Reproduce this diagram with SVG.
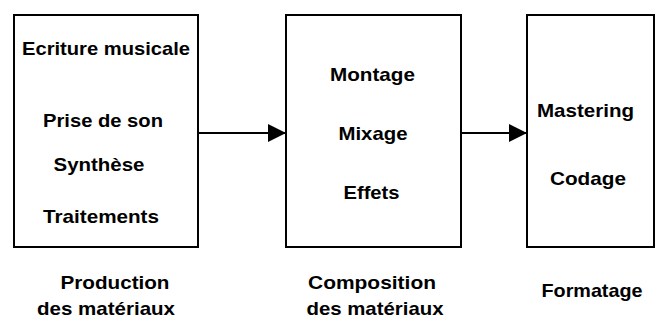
<svg xmlns="http://www.w3.org/2000/svg" width="661" height="320" viewBox="0 0 661 320">
<style>
.box{fill:#fff;stroke:#000;stroke-width:2}
.t{font-family:"Liberation Sans",Arial,sans-serif;font-weight:bold;font-size:19px;fill:#000;text-anchor:middle}
.c{stroke:#000;stroke-width:2;fill:none}
</style>
<defs>
<marker id="ah" markerUnits="userSpaceOnUse" markerWidth="18" markerHeight="18" refX="18" refY="9" orient="auto">
<path d="M0,0 L18,9 L0,18 Z" fill="#000"/>
</marker>
</defs>
<rect width="661" height="320" fill="#fff"/>
<g id="production">
<rect class="box" x="14" y="15" width="184" height="232"/>
<text class="t" x="106" y="55" textLength="168" lengthAdjust="spacingAndGlyphs">Ecriture musicale</text>
<text class="t" x="103" y="127" textLength="120" lengthAdjust="spacingAndGlyphs">Prise de son</text>
<text class="t" x="99" y="171" textLength="91" lengthAdjust="spacingAndGlyphs">Synthèse</text>
<text class="t" x="101" y="223" textLength="116" lengthAdjust="spacingAndGlyphs">Traitements</text>
</g>
<g id="composition">
<rect class="box" x="286" y="15" width="175" height="232"/>
<text class="t" x="372.5" y="81" textLength="85" lengthAdjust="spacingAndGlyphs">Montage</text>
<text class="t" x="373" y="140" textLength="69" lengthAdjust="spacingAndGlyphs">Mixage</text>
<text class="t" x="371.5" y="199" textLength="56" lengthAdjust="spacingAndGlyphs">Effets</text>
</g>
<g id="formatage">
<rect class="box" x="527" y="15" width="127" height="232"/>
<text class="t" x="585.5" y="117" textLength="97" lengthAdjust="spacingAndGlyphs">Mastering</text>
<text class="t" x="588" y="185" textLength="76" lengthAdjust="spacingAndGlyphs">Codage</text>
</g>
<g id="labels">
<text class="t" x="115" y="289" textLength="109" lengthAdjust="spacingAndGlyphs">Production</text>
<text class="t" x="106" y="315" textLength="138" lengthAdjust="spacingAndGlyphs">des matériaux</text>
<text class="t" x="372" y="289" textLength="128" lengthAdjust="spacingAndGlyphs">Composition</text>
<text class="t" x="375" y="315" textLength="137" lengthAdjust="spacingAndGlyphs">des matériaux</text>
<text class="t" x="592" y="297" textLength="101" lengthAdjust="spacingAndGlyphs">Formatage</text>
</g>
<g id="connectors">
<line class="c" x1="198" y1="133" x2="286" y2="133" marker-end="url(#ah)"/>
<line class="c" x1="461" y1="133" x2="527" y2="133" marker-end="url(#ah)"/>
</g>
</svg>
